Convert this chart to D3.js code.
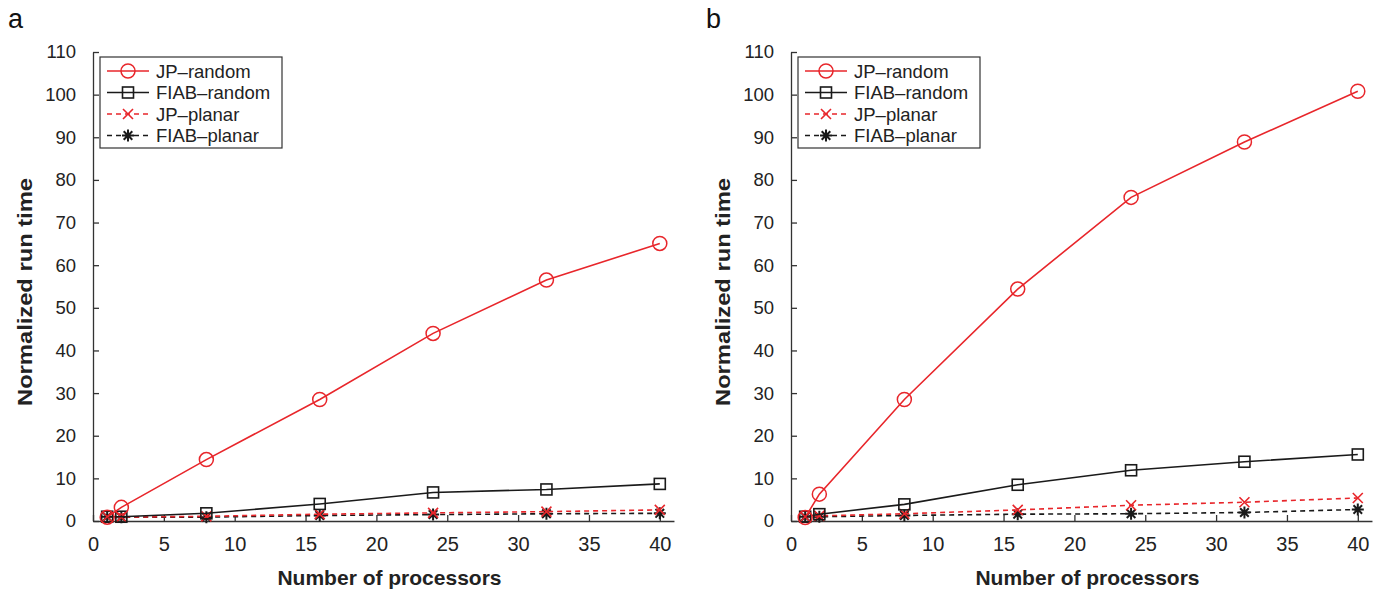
<!DOCTYPE html>
<html>
<head>
<meta charset="utf-8">
<style>
body { margin: 0; background: #fff; }
svg { font-family: "Liberation Sans", Arial, sans-serif; }
.axis path, .axis line { stroke: #333; stroke-width: 1.3; }
.axis text { fill: #222; }
.axis-x text { font-size: 20px; }
.axis-y text { font-size: 18.5px; }
.title { font-size: 21px; font-weight: bold; fill: #222; }
.panel { font-size: 27px; fill: #111; }
.legend text { font-size: 18.5px; fill: #222; }
</style>
</head>
<body>
<svg id="chart" width="1396" height="594"></svg>
<script src="https://d3js.org/d3.v7.min.js"></script>
<script>

var processors = [1, 2, 8, 16, 24, 32, 40];
var seriesNames = ["JP\u2013random", "FIAB\u2013random", "JP\u2013planar", "FIAB\u2013planar"];
var xTicks = [0, 5, 10, 15, 20, 25, 30, 35, 40];
var yTicks = [0, 10, 20, 30, 40, 50, 60, 70, 80, 90, 100, 110];

// panel a
var aJPRandom = [0.9, 3.2, 14.4, 28.5, 44.0, 56.5, 65.1];
var aFIABRandom = [1.0, 1.0, 1.8, 4.0, 6.7, 7.4, 8.7];
var aJPPlanar = [1.0, 0.9, 1.1, 1.6, 1.9, 2.2, 2.6];
var aFIABPlanar = [1.0, 0.9, 0.9, 1.3, 1.5, 1.7, 1.8];

// panel b
var bJPRandom = [0.8, 6.3, 28.5, 54.4, 75.9, 88.9, 100.8];
var bFIABRandom = [1.0, 1.6, 3.9, 8.5, 11.9, 13.9, 15.6];
var bJPPlanar = [1.0, 1.2, 1.7, 2.6, 3.7, 4.4, 5.4];
var bFIABPlanar = [1.0, 1.0, 1.3, 1.6, 1.7, 2.0, 2.7];

var styles = [
    {color: "#e8262b", dash: null, marker: "circle"},
    {color: "#1a1a1a", dash: null, marker: "square"},
    {color: "#e8262b", dash: "5,4", marker: "cross"},
    {color: "#1a1a1a", dash: "5,4", marker: "star"}
];

var svg = d3.select("#chart");

function drawMarker(g, type, color) {
    if (type == "circle") {
        g.append("circle").attr("r", 7).attr("fill", "none").attr("stroke", color).attr("stroke-width", 1.5);
    } else if (type == "square") {
        g.append("rect").attr("x", -5.5).attr("y", -5.5).attr("width", 11).attr("height", 11)
            .attr("fill", "none").attr("stroke", color).attr("stroke-width", 1.6);
    } else if (type == "cross") {
        g.append("path").attr("d", "M-5,-5L5,5M-5,5L5,-5").attr("stroke", color).attr("stroke-width", 1.6);
    } else {
        g.append("path").attr("d", "M-6,0L6,0M0,-6L0,6M-4.3,-4.3L4.3,4.3M-4.3,4.3L4.3,-4.3")
            .attr("stroke", color).attr("stroke-width", 2);
    }
}

function drawPanel(left, label, series) {
    var xScale = d3.scaleLinear().domain([0, 41]).range([left, left + 14.17 * 41]);
    var yScale = d3.scaleLinear().domain([0, 110]).range([521, 52]);

    var g = svg.append("g");

    g.append("g")
        .attr("class", "axis axis-x")
        .attr("transform", "translate(0,521)")
        .call(d3.axisBottom(xScale).tickValues(xTicks).tickSizeInner(-6).tickSizeOuter(0).tickPadding(16));

    g.append("g")
        .attr("class", "axis axis-y")
        .attr("transform", "translate(" + left + ",0)")
        .call(d3.axisLeft(yScale).tickValues(yTicks).tickSizeInner(-6).tickSizeOuter(0).tickPadding(17));

    g.append("text").attr("class", "title")
        .attr("x", (xScale(0) + xScale(41)) / 2 + 6).attr("y", 585)
        .attr("text-anchor", "middle").text("Number of processors");

    g.append("text").attr("class", "title")
        .attr("transform", "translate(" + (left - 61) + ",292) rotate(-90)")
        .attr("text-anchor", "middle")
        .attr("textLength", 228).attr("lengthAdjust", "spacingAndGlyphs")
        .text("Normalized run time");

    g.append("text").attr("class", "panel")
        .attr("x", left - 85).attr("y", 28).text(label);

    var line = d3.line()
        .x(function(d, i) { return xScale(processors[i]); })
        .y(function(d) { return yScale(d); });

    // draw bottom series first so the red random line sits on top
    [3, 2, 1, 0].forEach(function(k) {
        var s = styles[k];
        g.append("path")
            .datum(series[k])
            .attr("d", line)
            .attr("fill", "none")
            .attr("stroke", s.color)
            .attr("stroke-width", 1.6)
            .attr("stroke-dasharray", s.dash);
        series[k].forEach(function(v, i) {
            var m = g.append("g").attr("transform", "translate(" + xScale(processors[i]) + "," + yScale(v) + ")");
            drawMarker(m, s.marker, s.color);
        });
    });

    // legend
    var lg = g.append("g").attr("class", "legend").attr("transform", "translate(" + (left + 7) + ",57)");
    lg.append("rect").attr("width", 182).attr("height", 91)
        .attr("fill", "#fff").attr("stroke", "#333").attr("stroke-width", 1.2);
    seriesNames.forEach(function(name, k) {
        var s = styles[k];
        var y = 14 + k * 21.5;
        lg.append("line").attr("x1", 7).attr("x2", 49).attr("y1", y).attr("y2", y)
            .attr("stroke", s.color).attr("stroke-width", 1.6).attr("stroke-dasharray", s.dash);
        var m = lg.append("g").attr("transform", "translate(28," + y + ")");
        drawMarker(m, s.marker, s.color);
        lg.append("text").attr("x", 56).attr("y", y + 6.5).text(name);
    });
}

drawPanel(93, "a", [aJPRandom, aFIABRandom, aJPPlanar, aFIABPlanar]);
drawPanel(791, "b", [bJPRandom, bFIABRandom, bJPPlanar, bFIABPlanar]);

</script>
</body>
</html>
